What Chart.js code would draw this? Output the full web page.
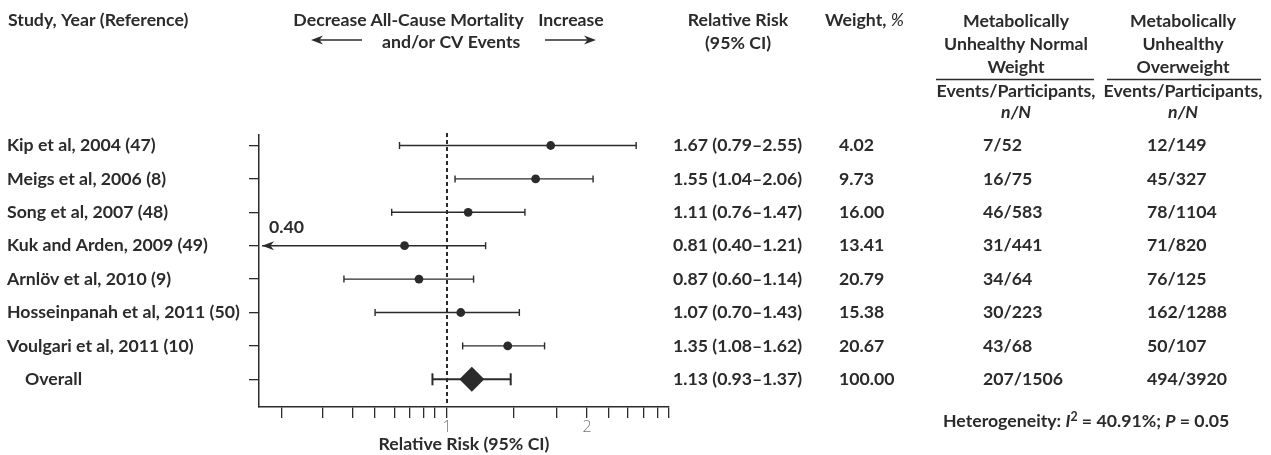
<!DOCTYPE html>
<html>
<head>
  <title>Forest plot – All-Cause Mortality and/or CV Events</title>
  <script src="https://cdn.jsdelivr.net/npm/chart.js"></script>
  <style>
    body { margin: 0; background: #fff; }
    #wrap { width: 1271px; height: 455px; position: relative; }
  </style>
</head>
<body>
<div id="wrap"><canvas id="forest"></canvas></div>
<script>
  const studies = ['Kip et al, 2004 (47)', 'Meigs et al, 2006 (8)', 'Song et al, 2007 (48)',
    'Kuk and Arden, 2009 (49)', 'Arnlöv et al, 2010 (9)', 'Hosseinpanah et al, 2011 (50)',
    'Voulgari et al, 2011 (10)', 'Overall'];
  const rrEst  = [1.67, 1.55, 1.11, 0.81, 0.87, 1.07, 1.35, 1.13];
  const ciLow  = [0.79, 1.04, 0.76, 0.40, 0.60, 0.70, 1.08, 0.93];
  const ciHigh = [2.55, 2.06, 1.47, 1.21, 1.14, 1.43, 1.62, 1.37];
  const weights = ['4.02', '9.73', '16.00', '13.41', '20.79', '15.38', '20.67', '100.00'];
  const normalWeight = ['7/52', '16/75', '46/583', '31/441', '34/64', '30/223', '43/68', '207/1506'];
  const overweight = ['12/149', '45/327', '78/1104', '71/820', '76/125', '162/1288', '50/107', '494/3920'];
  const xTickVals = [0.44, 0.54, 0.625, 0.70, 0.77, 0.83, 0.89, 0.94, 1, 1.39, 1.72, 2, 2.23, 2.45, 2.64, 2.83, 3.0];
  const xTickLabels = ['', '', '', '', '', '', '', '', '1', '', '', '2', '', '', '', '', ''];
  const arrowRow = 3; // lower limit shown as an arrow with its value

  const FAMILY = 'Lato, "Open Sans", sans-serif';
  const ink = '#2b2b2b';

  // size the font so the longest study name is as wide as in the figure
  const probe = document.createElement('canvas').getContext('2d');
  probe.font = 'bold 14px ' + FAMILY;
  const fs = Math.round(14 * 233 / probe.measureText('Hosseinpanah et al, 2011 (50)').width * 10) / 10;
  const bold = 'bold ' + fs + 'px ' + FAMILY;
  const boldIt = 'italic bold ' + fs + 'px ' + FAMILY;

  function line(ctx, x1, y1, x2, y2) {
    ctx.beginPath(); ctx.moveTo(x1, y1); ctx.lineTo(x2, y2); ctx.stroke();
  }
  function arrowHead(ctx, tx, ty, dir) {
    const len = 12, half = 4.5;
    ctx.beginPath();
    ctx.moveTo(tx, ty);
    ctx.lineTo(tx - dir * len, ty - half);
    ctx.lineTo(tx - dir * len * 0.7, ty);
    ctx.lineTo(tx - dir * len, ty + half);
    ctx.closePath();
    ctx.fill();
  }
  function text(ctx, s, x, y, align, font) {
    ctx.font = font || bold;
    ctx.textAlign = align || 'left';
    ctx.fillText(s, x, y);
  }
  // draws several styled pieces one after another, starting at x
  function runs(ctx, parts, x, y) {
    ctx.textAlign = 'left';
    parts.forEach(p => {
      ctx.font = p[1];
      ctx.fillText(p[0], x, y + (p[2] || 0));
      x += ctx.measureText(p[0]).width;
    });
  }

  const forestExtras = {
    id: 'forestExtras',
    beforeDatasetsDraw(chart) {
      const { ctx, chartArea, scales: { x, y } } = chart;
      ctx.save();
      ctx.strokeStyle = ink;
      ctx.fillStyle = ink;

      // reference line at RR = 1
      const x1 = Math.round(x.getPixelForValue(1));
      ctx.lineWidth = 2;
      ctx.setLineDash([4, 3]);
      line(ctx, x1, chartArea.top - 2, x1, chartArea.bottom);
      ctx.setLineDash([]);

      // confidence intervals
      studies.forEach((s, i) => {
        const yy = y.getPixelForValue(i);
        const a = x.getPixelForValue(ciLow[i]);
        const b = x.getPixelForValue(ciHigh[i]);
        const overall = i === studies.length - 1;
        ctx.lineWidth = overall ? 2 : 1.4;
        const cap = overall ? 6 : 3.5;
        line(ctx, a, yy, b, yy);
        if (i === arrowRow) {
          arrowHead(ctx, a, yy, -1);
        } else {
          line(ctx, a, yy - cap, a, yy + cap);
        }
        line(ctx, b, yy - cap, b, yy + cap);
      });
      ctx.restore();
    },
    afterDraw(chart) {
      const { ctx, scales: { x, y } } = chart;
      ctx.save();
      ctx.fillStyle = ink;
      ctx.strokeStyle = ink;
      ctx.textBaseline = 'middle';

      // header, left part
      text(ctx, 'Study, Year (Reference)', 8, 20);
      text(ctx, 'Decrease', 330, 20, 'center');
      const xc = x.getPixelForValue(1);
      text(ctx, 'All-Cause Mortality', xc, 20, 'center');
      text(ctx, 'and/or CV Events', xc + 4, 42, 'center');
      text(ctx, 'Increase', 571, 20, 'center');
      ctx.lineWidth = 1.5;
      line(ctx, 362, 40, 318, 40); arrowHead(ctx, 311, 40, -1);
      line(ctx, 545, 40, 589, 40); arrowHead(ctx, 596, 40, 1);

      // header, right part
      text(ctx, 'Relative Risk', 738, 20, 'center');
      text(ctx, '(95% CI)', 738, 43, 'center');
      runs(ctx, [['Weight, ', bold], ['%', 'italic ' + fs + 'px ' + FAMILY]], 825, 20);

      const groups = [
        { cx: 1016, l: 936, r: 1094, lines: ['Metabolically', 'Unhealthy Normal', 'Weight'] },
        { cx: 1183, l: 1107, r: 1261, lines: ['Metabolically', 'Unhealthy', 'Overweight'] }
      ];
      groups.forEach(g => {
        g.lines.forEach((s, k) => text(ctx, s, g.cx, 21 + k * 23.3, 'center'));
        ctx.lineWidth = 1.3;
        line(ctx, g.l, 79.5, g.r, 79.5);
        text(ctx, 'Events/Participants,', g.cx, 91, 'center');
        text(ctx, 'n/N', g.cx, 112, 'center', boldIt);
      });

      // table rows
      studies.forEach((s, i) => {
        const yy = y.getPixelForValue(i);
        const overall = i === studies.length - 1;
        text(ctx, s, overall ? 25 : 7, yy);
        const rr = rrEst[i].toFixed(2) + ' (' + ciLow[i].toFixed(2) + '–' + ciHigh[i].toFixed(2) + ')';
        text(ctx, rr, 673, yy);
        text(ctx, weights[i], 839, yy);
        text(ctx, normalWeight[i], 983, yy);
        text(ctx, overweight[i], 1147, yy);
      });

      // value of the truncated limit
      text(ctx, ciLow[arrowRow].toFixed(2), 269, y.getPixelForValue(arrowRow) - 18);

      // heterogeneity
      runs(ctx, [
        ['Heterogeneity: ', bold],
        ['I', boldIt],
        ['2', 'bold ' + (fs * 0.7).toFixed(1) + 'px ' + FAMILY, -4],
        [' = 40.91%; ', bold],
        ['P', boldIt],
        [' = 0.05', bold]
      ], 943, 421);
      ctx.restore();
    }
  };

  new Chart(document.getElementById('forest'), {
    type: 'scatter',
    data: {
      datasets: [
        {
          data: rrEst.slice(0, -1).map((v, i) => ({ x: v, y: i })),
          backgroundColor: ink, borderWidth: 0, pointRadius: 4.4, pointStyle: 'circle'
        },
        {
          data: [{ x: rrEst[rrEst.length - 1], y: rrEst.length - 1 }],
          backgroundColor: ink, borderWidth: 0, pointRadius: 12.5, pointStyle: 'rectRot'
        }
      ]
    },
    options: {
      responsive: true,
      maintainAspectRatio: false,
      animation: false,
      events: [],
      layout: { padding: { left: 249, right: 602, top: 135, bottom: 0 } },
      plugins: { legend: { display: false }, tooltip: { enabled: false } },
      scales: {
        x: {
          type: 'logarithmic',
          min: 0.394, max: 3.0, bounds: 'data',
          afterBuildTicks: s => { s.ticks = xTickVals.map(v => ({ value: v })); },
          afterFit: s => { s.height = 48; },
          ticks: {
            autoSkip: false, maxRotation: 0, padding: 0, color: '#777',
            font: { family: '"Open Sans", sans-serif', size: 16, weight: '300' },
            callback: (v, i) => xTickLabels[i]
          },
          grid: { drawOnChartArea: false, drawTicks: true, tickLength: 11, color: ink, lineWidth: 1.3 },
          border: { display: true, color: ink, width: 1.5 },
          title: {
            display: true, text: 'Relative Risk (95% CI)', color: ink,
            font: { family: FAMILY, size: fs, weight: 'bold' }, padding: { top: 0, bottom: 0 }
          }
        },
        y: {
          type: 'linear', reverse: true, min: -0.314, max: 7.829,
          afterBuildTicks: s => { s.ticks = studies.map((_, i) => ({ value: i })); },
          afterFit: s => { s.width = 10; },
          ticks: { display: false },
          grid: { drawOnChartArea: false, drawTicks: true, tickLength: 10, color: ink, lineWidth: 1.3 },
          border: { display: true, color: ink, width: 1.5 }
        }
      }
    },
    plugins: [forestExtras]
  });
</script>
</body>
</html>
